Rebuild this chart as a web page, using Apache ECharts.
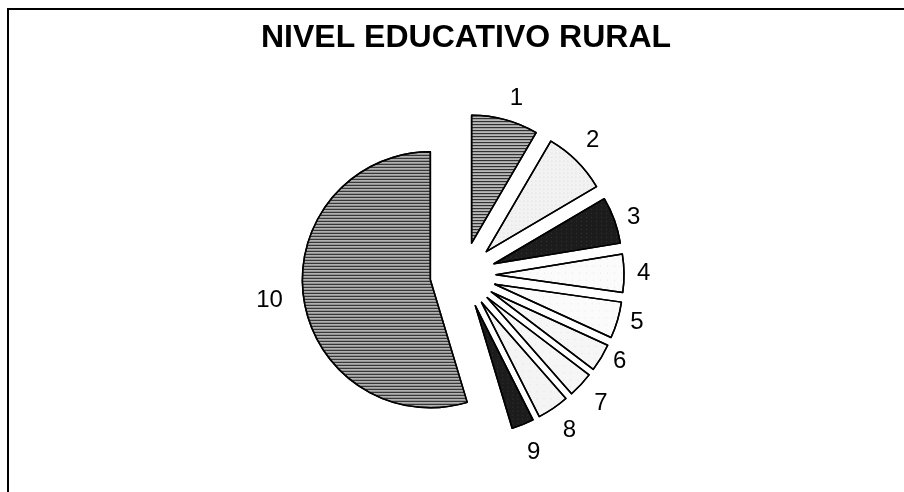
<!DOCTYPE html>
<html><head><meta charset="utf-8">
<script src="https://cdn.jsdelivr.net/npm/echarts@6/dist/echarts.min.js"></script>
<style>html,body{margin:0;padding:0;background:#fff}#c{width:904px;height:492px}</style>
</head><body><div id="c"></div>
<script>
const titleText = 'NIVEL EDUCATIVO RURAL';
const categories = ['1','2','3','4','5','6','7','8','9','10'];
const values = [8.4, 8.1, 5.9, 4.8, 4.6, 3.5, 3.2, 4.0, 2.8, 54.6];

const labelLens = [22, 29, 8, 8, 8, 8, 28, 26, 30, 16];
const labelLens2 = [-6, -16, 0, 0, 0, 0, -12, -10, -12, 0];

const stripes = {symbol:'rect', symbolSize:1, dashArrayX:[1,0], dashArrayY:[1,2], color:'#1a1a1a', rotation:0};
const dots = {symbol:'rect', symbolSize:0.5, dashArrayX:[[1,3]], dashArrayY:[1,3], color:'#999', rotation:0};
const sparse = {symbol:'rect', symbolSize:0.5, dashArrayX:[[1,6]], dashArrayY:[1,6], color:'#aaa', rotation:0};
const dark = {symbol:'rect', symbolSize:0.6, dashArrayX:[[1,4]], dashArrayY:[1,3], color:'#777', rotation:0};
const styles = [
  {color:'#b8b8b8', decal:stripes},
  {color:'#f2f2f2', decal:dots},
  {color:'#1c1c1c', decal:dark},
  {color:'#fbfbfb', decal:sparse},
  {color:'#fbfbfb', decal:sparse},
  {color:'#f6f6f6', decal:sparse},
  {color:'#f6f6f6', decal:sparse},
  {color:'#f4f4f4', decal:sparse},
  {color:'#1c1c1c', decal:dark},
  {color:'#b0b0b0', decal:stripes}
];

const chart = echarts.init(document.getElementById('c'), null, {renderer:'canvas'});
chart.setOption({
  backgroundColor:'#fff',
  animation:false,
  title:{text:titleText, left:461, top:17, textAlign:'center',
    textStyle:{fontFamily:'Liberation Sans, Arial', fontWeight:'bold', fontSize:32, color:'#000'}},
  graphic:[
    {type:'line', shape:{x1:7, y1:9, x2:904, y2:9}, style:{stroke:'#000', lineWidth:2}},
    {type:'line', shape:{x1:8, y1:9, x2:8, y2:492}, style:{stroke:'#000', lineWidth:2}}
  ],
  series:[{
    type:'pie',
    center:[463,275],
    radius:128,
    startAngle:90,
    clockwise:true,
    selectedMode:'multiple',
    selectedOffset:33,
    avoidLabelOverlap:false,
    label:{show:true, position:'outside', formatter:'{b}', fontFamily:'Liberation Sans, Arial', fontSize:24, color:'#000'},
    labelLine:{show:false, length:8, length2:0},
    itemStyle:{borderColor:'#000', borderWidth:1.5},
    emphasis:{disabled:true},
    data: categories.map((c,i)=>({name:c, value:values[i], selected:true, itemStyle:styles[i],
      labelLine:{show:false, length:labelLens[i], length2:labelLens2[i]}}))
  }]
});
</script></body></html>
